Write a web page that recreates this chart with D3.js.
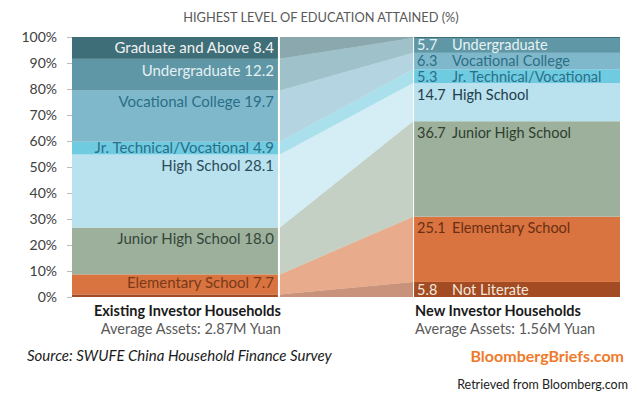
<!DOCTYPE html>
<html>
<head>
<meta charset="utf-8">
<script src="https://cdn.jsdelivr.net/npm/d3@7"></script>
<style>
  body { margin: 0; background: #fff; }
  svg { font-family: Lato, "Open Sans", sans-serif; }
</style>
</head>
<body>
<svg width="640" height="397"></svg>
<script>
// bottom to top
var categories = ["Not Literate", "Elementary School", "Junior High School", "High School",
                  "Jr. Technical/Vocational", "Vocational College", "Undergraduate", "Graduate and Above"];
var groups = ["Existing Investor Households", "New Investor Households"];
var subtitles = ["Average Assets: 2.87M Yuan", "Average Assets: 1.56M Yuan"];
var existing = [1.0, 7.7, 18.0, 28.1, 4.9, 19.7, 12.2, 8.4];
var newer = [5.8, 25.1, 36.7, 14.7, 5.3, 6.3, 5.7, 0.4];
var yTicks = [0, 10, 20, 30, 40, 50, 60, 70, 80, 90, 100];

var colors = ["#a34b22", "#d9733f", "#9cb09c", "#b9e1ee", "#6fcbe0", "#80b8cb", "#5f97a6", "#3e6e78"];
var leftTextColors = [null, "#7a3a1a", "#34463a", "#2b4d5c", "#2a6f8a", "#2a6f88", "#e4f0f3", "#f2f2f2"];
var rightTextColors = ["#f4e8de", "#6b2e15", "#2f3f2f", "#1f3d4a", "#2a6f8a", "#2a6f88", "#e8f2f4", null];

var svg = d3.select("svg");

var y = d3.scaleLinear().domain([0, 100]).range([297, 37]);
var x = d3.scaleBand().domain(groups).range([72, 620]).paddingInner(0.398);
var bw = x.bandwidth();

function stackUp(vals) {
  var acc = 0;
  return vals.map((v, i) => { var s = { i: i, lo: acc, hi: acc + v, v: v }; acc += v; return s; });
}
var left = stackUp(existing);
var right = stackUp(newer);

// title
svg.append("text")
  .attr("x", 321).attr("y", 22)
  .attr("text-anchor", "middle")
  .style("font-size", "12.8px")
  .attr("fill", "#595959")
  .text("HIGHEST LEVEL OF EDUCATION ATTAINED (%)");

// axis
var axis = svg.append("g")
  .attr("transform", "translate(72,0)")
  .call(d3.axisLeft(y).tickValues(yTicks).tickSize(5).tickPadding(10).tickFormat(d => d + "%"));
axis.select(".domain").remove();
axis.selectAll("line").attr("stroke", "#bdbdbd");
axis.selectAll("text").style("font-size", "14px").style("font-family", "Lato, sans-serif").attr("fill", "#404040");

// connectors between the bars
var cx0 = x(groups[0]) + bw + 2;
var cx1 = x(groups[1]) - 1;
svg.append("g").selectAll("path")
  .data(categories)
  .enter().append("path")
    .attr("d", (d, i) => "M" + cx0 + "," + y(left[i].lo) + "L" + cx0 + "," + y(left[i].hi) +
                         "L" + cx1 + "," + y(right[i].hi) + "L" + cx1 + "," + y(right[i].lo) + "Z")
    .attr("fill", (d, i) => colors[i])
    .attr("fill-opacity", 0.6);

// bars
[left, right].forEach(function(stack, g) {
  svg.append("g").selectAll("rect")
    .data(stack)
    .enter().append("rect")
      .attr("x", x(groups[g]))
      .attr("width", bw)
      .attr("y", d => y(d.hi))
      .attr("height", d => y(d.lo) - y(d.hi))
      .attr("fill", d => colors[d.i]);
});

// label y near top of segment, then spread crowded ones a little
function labelYs(stack, minGap) {
  var ys = stack.map(s => y(s.hi) + Math.min((y(s.lo) - y(s.hi)) / 2, 11.5));
  for (var k = 0; k < 3; k++) {
    for (var i = stack.length - 1; i > 0; i--) {
      var gap = ys[i - 1] - ys[i];
      if (gap < minGap) {
        ys[i] -= (minGap - gap) / 2;
        ys[i - 1] += (minGap - gap) / 2;
      }
    }
  }
  return ys;
}

// left labels: "name value", right aligned
var lys = labelYs(left, 15);
svg.append("g").selectAll("text")
  .data(left.filter(d => leftTextColors[d.i]))
  .enter().append("text")
    .attr("x", x(groups[0]) + bw - 4)
    .attr("y", d => lys[d.i])
    .attr("dy", "0.35em")
    .attr("text-anchor", "end")
    .style("font-size", "15px")
    .attr("fill", d => leftTextColors[d.i])
    .text(d => categories[d.i] + " " + d.v.toFixed(1));

// right labels: "value  name"
var shown = right.filter(d => rightTextColors[d.i]);
var rys = labelYs(shown, 16);
var rl = svg.append("g").selectAll("g")
  .data(shown)
  .enter().append("g")
    .attr("transform", (d, j) => "translate(" + (x(groups[1]) + 3) + "," + rys[j] + ")")
    .attr("fill", d => rightTextColors[d.i])
    .style("font-size", "14.5px");
rl.append("text").attr("dy", "0.35em").text(d => d.v.toFixed(1));
rl.append("text").attr("x", 35).attr("dy", "0.35em").text(d => categories[d.i]);

// group labels
groups.forEach(function(name, g) {
  var gx = g === 0 ? x(name) + bw + 3 : x(name) + 1;
  var anchor = g === 0 ? "end" : "start";
  svg.append("text")
    .attr("x", gx).attr("y", 316)
    .attr("text-anchor", anchor)
    .style("font-size", "14.5px").style("font-weight", "bold")
    .attr("fill", "#1a1a1a")
    .text(name);
  svg.append("text")
    .attr("x", gx).attr("y", 334)
    .attr("text-anchor", anchor)
    .style("font-size", "14.5px")
    .attr("fill", "#595959")
    .text(subtitles[g]);
});

// footer
svg.append("text")
  .attr("x", 27).attr("y", 361)
  .style("font-size", "15px").style("font-style", "italic")
  .attr("fill", "#1a1a1a")
  .text("Source: SWUFE China Household Finance Survey");
svg.append("text")
  .attr("x", 624).attr("y", 362)
  .attr("text-anchor", "end")
  .style("font-size", "16px").style("font-weight", "bold")
  .attr("fill", "#f07a2a")
  .text("BloombergBriefs.com");
svg.append("text")
  .attr("x", 628).attr("y", 389)
  .attr("text-anchor", "end")
  .style("font-size", "12.5px")
  .attr("fill", "#222")
  .text("Retrieved from Bloomberg.com");
</script>
</body>
</html>
